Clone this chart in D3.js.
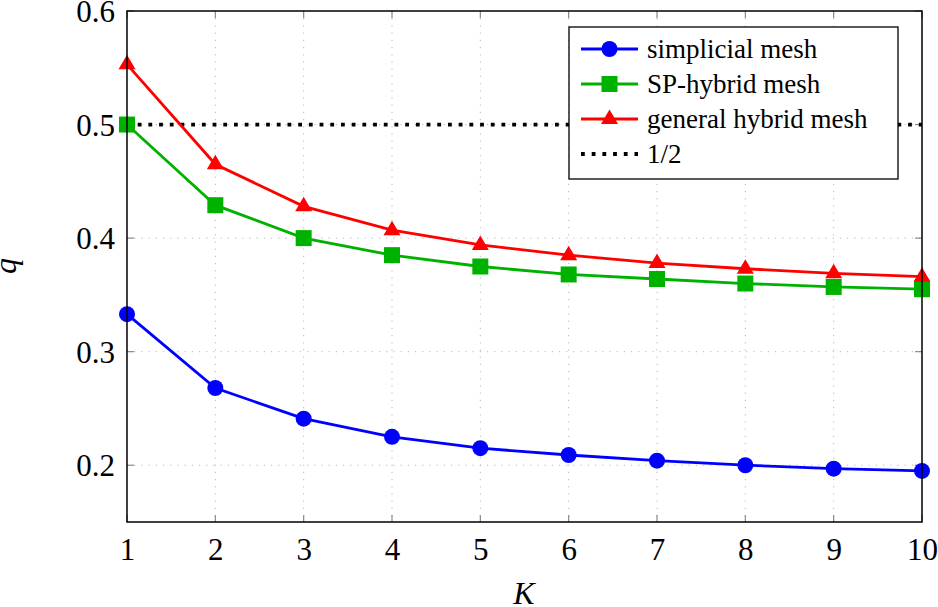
<!DOCTYPE html>
<html><head><meta charset="utf-8">
<script src="https://cdn.jsdelivr.net/npm/d3@7"></script>
<style>body{margin:0;background:#fff}svg{display:block}text{font-family:"Liberation Serif","Times New Roman",serif;fill:#000}</style>
</head><body><svg id="c" width="938" height="607"></svg>
<script>
const K = [1,2,3,4,5,6,7,8,9,10];
const simplicial = [0.333,0.268,0.241,0.225,0.215,0.209,0.204,0.200,0.197,0.195];
const spHybrid = [0.500,0.429,0.400,0.385,0.375,0.368,0.364,0.360,0.357,0.355];
const generalHybrid = [0.553,0.465,0.428,0.407,0.394,0.385,0.378,0.373,0.369,0.366];
const half = 0.5;
const xTicks = [1,2,3,4,5,6,7,8,9,10];
const yTicks = [0.2,0.3,0.4,0.5,0.6];
const seriesNames = ["simplicial mesh","SP-hybrid mesh","general hybrid mesh","1/2"];

const svg = d3.select("#c");
const L=127,R=922,T=11,B=522;
const x = d3.scaleLinear().domain([1,10]).range([L,R]);
const y = d3.scaleLinear().domain([0.15,0.6]).range([B,T]);

// grid
const g = svg.append("g");
g.selectAll(".gx").data(xTicks.slice(1,-1)).enter().append("line")
 .attr("x1",d=>x(d)).attr("x2",d=>x(d)).attr("y1",T).attr("y2",B)
 .attr("stroke","#b8b8b8").attr("stroke-width",1).attr("stroke-dasharray","1.2,6");
g.selectAll(".gy").data(yTicks.slice(0,-1)).enter().append("line")
 .attr("y1",d=>y(d)).attr("y2",d=>y(d)).attr("x1",L).attr("x2",R)
 .attr("stroke","#b8b8b8").attr("stroke-width",1).attr("stroke-dasharray","1.2,6");

// inner ticks
const tk=7;
xTicks.forEach(d=>{
  svg.append("line").attr("x1",x(d)).attr("x2",x(d)).attr("y1",B).attr("y2",B-tk).attr("stroke","#888").attr("stroke-width",1.2);
  svg.append("line").attr("x1",x(d)).attr("x2",x(d)).attr("y1",T).attr("y2",T+tk).attr("stroke","#888").attr("stroke-width",1.2);
});
yTicks.forEach(d=>{
  svg.append("line").attr("x1",L).attr("x2",L+tk).attr("y1",y(d)).attr("y2",y(d)).attr("stroke","#888").attr("stroke-width",1.2);
  svg.append("line").attr("x1",R).attr("x2",R-tk).attr("y1",y(d)).attr("y2",y(d)).attr("stroke","#888").attr("stroke-width",1.2);
});

// axes labels via d3 axes (no lines)
const xa = svg.append("g").attr("transform",`translate(0,${B})`).call(d3.axisBottom(x).tickValues(xTicks).tickSize(0).tickPadding(16).tickFormat(d3.format("d")));
xa.select(".domain").remove();
xa.selectAll("text").attr("font-size",31).style("font-family",'"Liberation Serif",serif').attr("dy","0.71em");
const ya = svg.append("g").attr("transform",`translate(${L},0)`).call(d3.axisLeft(y).tickValues(yTicks).tickSize(0).tickPadding(12).tickFormat(d3.format(".1f")));
ya.select(".domain").remove();
ya.selectAll("text").attr("font-size",31).style("font-family",'"Liberation Serif",serif').attr("dy","0.34em");

// 1/2 line
svg.append("line").attr("x1",x(1)).attr("x2",x(10)).attr("y1",y(half)).attr("y2",y(half))
 .attr("stroke","#000").attr("stroke-width",3.8).attr("stroke-dasharray","3.8,6.9");

const line = d3.line().x((d,i)=>x(K[i])).y(d=>y(d));
function drawSeries(data,color,shape){
  svg.append("path").datum(data).attr("d",line).attr("fill","none").attr("stroke",color).attr("stroke-width",2.8);
  svg.selectAll(null).data(data).enter().append("path")
   .attr("transform",(d,i)=>`translate(${x(K[i])},${y(d)})`)
   .attr("d",shape).attr("fill",color);
}
const circ = d3.symbol().type(d3.symbolCircle).size(Math.PI*8*8)();
const sq = d3.symbol().type(d3.symbolSquare).size(16*16)();
const tri = "M0,-9.5L8.5,5L-8.5,5Z";
drawSeries(simplicial,"#0000ff",circ);
drawSeries(spHybrid,"#00b200",sq);
drawSeries(generalHybrid,"#ff0000",tri);

// frame
svg.append("rect").attr("x",L).attr("y",T).attr("width",R-L).attr("height",B-T).attr("fill","none").attr("stroke","#000").attr("stroke-width",1.5);

// legend
const lg = svg.append("g");
lg.append("rect").attr("x",569).attr("y",27).attr("width",329).attr("height",152).attr("fill","#fff").attr("stroke","#000").attr("stroke-width",1.3);
const lcols=["#0000ff","#00b200","#ff0000","#000"], lshapes=[circ,sq,tri,null];
seriesNames.forEach((n,i)=>{
  const cy = 49 + i*35;
  if(i<3){
    lg.append("line").attr("x1",581).attr("x2",638).attr("y1",cy).attr("y2",cy).attr("stroke",lcols[i]).attr("stroke-width",2.8);
    lg.append("path").attr("transform",`translate(609.5,${cy})`).attr("d",lshapes[i]).attr("fill",lcols[i]);
  } else {
    lg.append("line").attr("x1",581).attr("x2",638).attr("y1",cy).attr("y2",cy).attr("stroke","#000").attr("stroke-width",3.8).attr("stroke-dasharray","3.8,6.9");
  }
  lg.append("text").attr("x",647).attr("y",cy).attr("dy","0.33em").attr("font-size",27).text(n);
});

// axis titles
svg.append("text").attr("x",524).attr("y",604).attr("text-anchor","middle").attr("font-size",32).attr("font-style","italic").text("K");
svg.append("text").attr("transform","translate(16,266) rotate(-90)").attr("text-anchor","middle").attr("font-size",32).attr("font-style","italic").text("q");
</script></body></html>
